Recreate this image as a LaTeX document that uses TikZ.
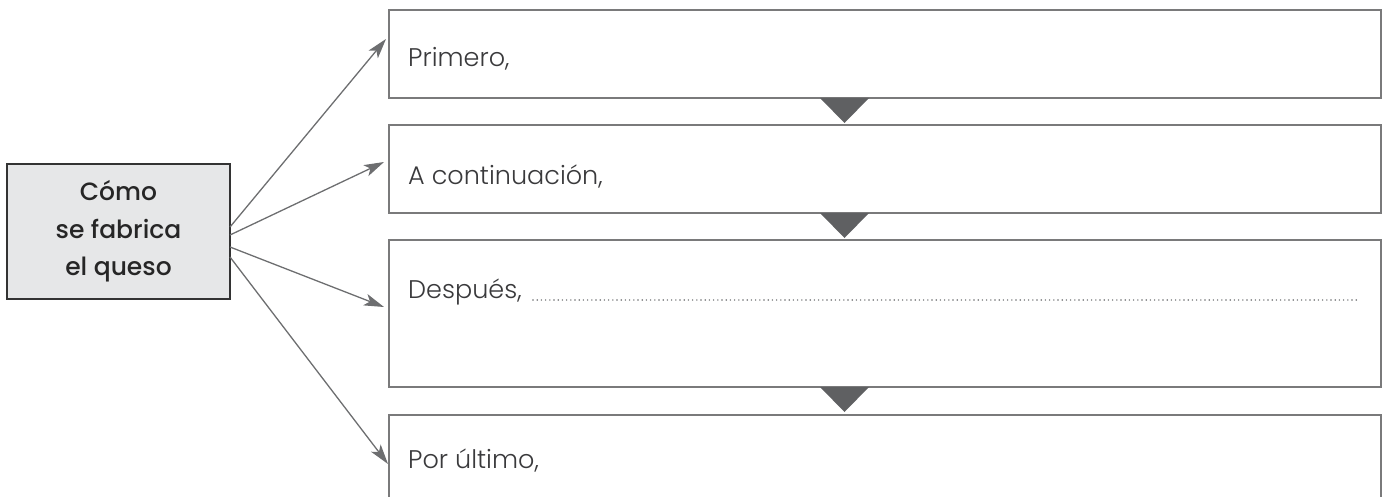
\documentclass[tikz,border=0pt]{standalone}
\usepackage{fontspec}
\setmainfont{Poppins}
\newfontfamily\lightf{Poppins Light}
\newfontfamily\medf{Poppins Medium}
\usetikzlibrary{arrows.meta}
\definecolor{boxgray}{HTML}{7A7A7B}
\definecolor{arrgray}{HTML}{6D6E70}
\definecolor{trigray}{HTML}{5F6062}
\definecolor{fillgray}{HTML}{E6E7E8}
\definecolor{txtgray}{HTML}{3A3A3C}
\begin{document}
\begin{tikzpicture}[x=1pt,y=-1pt,
  stepbox/.style={draw=boxgray,line width=2.6pt,fill=white},
  steptext/.style={anchor=base west,inner sep=0pt,font=\lightf\fontsize{25.5}{30}\selectfont,text=txtgray},
  conn/.style={draw=arrgray,line width=1.3pt,-{Stealth[length=20pt,width=12pt,inset=5pt]}},
  tri/.style={fill=trigray,draw=none}]
\useasboundingbox (0,0) rectangle (1386,497);
% left box
\node[draw=black!80,line width=1.4pt,fill=fillgray,minimum width=223pt,minimum height=135pt,
  align=center,font=\medf\fontsize{25}{37.5}\selectfont,text=black!85,inner sep=0pt]
  (src) at (118.5,231.5) {Cómo\\se fabrica\\el queso};
% step boxes
\draw[stepbox] (389,10) rectangle (1381,98);
\draw[stepbox] (389,125) rectangle (1381,213);
\draw[stepbox] (389,240) rectangle (1381,387);
\draw[stepbox] (389,415) rectangle (1381,510);
\node[steptext] (t1) at (408,67) {Primero,};
\node[steptext] (t2) at (408,185) {A continuación,};
\node[steptext] (t3) at (408,298) {Después,};
\node[steptext] (t4) at (408,468) {Por último,};
\coordinate (d1) at (533,300);
\coordinate (d2) at (1357,300);
\draw[arrgray,line width=1.6pt,line cap=round,dash pattern=on 0pt off 4.2pt] (d1) -- (d2);
% triangles
\fill[tri] (820,98) -- (869,98) -- (844.5,123) -- cycle;
\fill[tri] (820,213) -- (869,213) -- (844.5,238) -- cycle;
\fill[tri] (820,387) -- (869,387) -- (844.5,412) -- cycle;
% connectors
\coordinate (e1) at (230,227);
\coordinate (e2) at (230,235);
\coordinate (e3) at (230,247);
\coordinate (e4) at (230,257);
\coordinate (a1) at (386,39);
\coordinate (a2) at (384,162);
\coordinate (a3) at (384,307);
\coordinate (a4) at (388,464);
\draw[conn] (e1) -- (a1);
\draw[conn] (e2) -- (a2);
\draw[conn] (e3) -- (a3);
\draw[conn] (e4) -- (a4);
\end{tikzpicture}
\end{document}
